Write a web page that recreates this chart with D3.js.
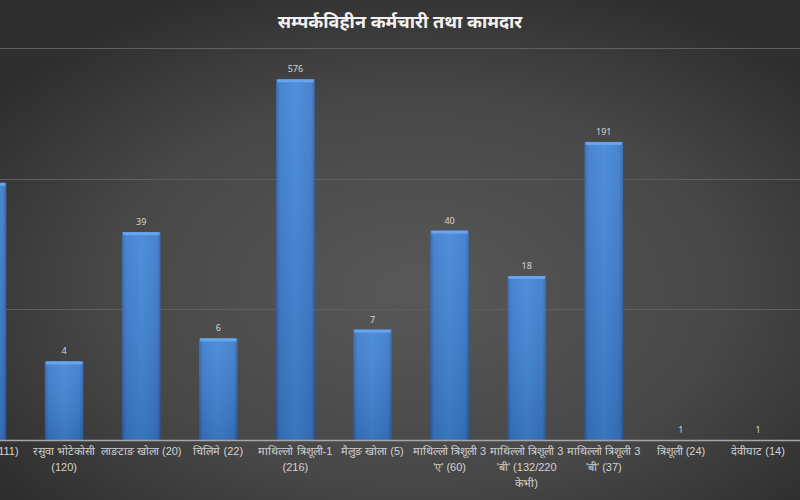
<!DOCTYPE html>
<html>
<head>
<meta charset="utf-8">
<script src="https://cdn.jsdelivr.net/npm/d3@7"></script>
<style>
html,body{margin:0;padding:0;background:#3c3c3c;}
svg{display:block;font-family:"Noto Sans","Noto Sans Devanagari","Lohit Devanagari","DejaVu Sans",sans-serif;}
</style>
</head>
<body>
<svg id="chart" width="800" height="500"></svg>
<script>
const title = "सम्पर्कविहीन कर्मचारी तथा कामदार";
const categories = [
  "रसुवागढी (111)",
  "रसुवा भोटेकोसी (120)",
  "लाङटाङ खोला (20)",
  "चिलिमे (22)",
  "माथिल्लो त्रिशूली-1 (216)",
  "मैलुङ खोला (5)",
  "माथिल्लो त्रिशूली 3 'ए' (60)",
  "माथिल्लो त्रिशूली 3 'बी' (132/220 केभी)",
  "माथिल्लो त्रिशूली 3 'बी' (37)",
  "त्रिशूली (24)",
  "देवीघाट (14)"
];
const values = [93, 4, 39, 6, 576, 7, 40, 18, 191, 1, 1];
const showValue = [false, true, true, true, true, true, true, true, true, true, true];
const gridTicks = [1, 10, 100, 1000];

const svg = d3.select("#chart");
const W = 800, H = 500;
const defs = svg.append("defs");

const bg = defs.append("radialGradient").attr("id","bg")
  .attr("cx","52%").attr("cy","58%").attr("r","65%");
bg.append("stop").attr("offset","0%").attr("stop-color","#585858");
bg.append("stop").attr("offset","60%").attr("stop-color","#474747");
bg.append("stop").attr("offset","100%").attr("stop-color","#2e2e2e");
svg.append("rect").attr("width",W).attr("height",H).attr("fill","url(#bg)");

const barG = defs.append("linearGradient").attr("id","barg")
  .attr("x1","0").attr("x2","1").attr("y1","0").attr("y2","0");
barG.append("stop").attr("offset","0%").attr("stop-color","#2c60aa");
barG.append("stop").attr("offset","10%").attr("stop-color","#3b7acb");
barG.append("stop").attr("offset","50%").attr("stop-color","#4085d8");
barG.append("stop").attr("offset","90%").attr("stop-color","#3b7acb");
barG.append("stop").attr("offset","100%").attr("stop-color","#2c60aa");

const barV = defs.append("linearGradient").attr("id","barv")
  .attr("x1","0").attr("x2","0").attr("y1","0").attr("y2","1");
barV.append("stop").attr("offset","0%").attr("stop-color","#ffffff").attr("stop-opacity",0.08);
barV.append("stop").attr("offset","100%").attr("stop-color","#000000").attr("stop-opacity",0.12);

const step = 77.1;
const x = d3.scaleBand().domain(categories)
  .range([-13 - step/2, -13 - step/2 + step*categories.length])
  .paddingInner(0.5).paddingOuter(0.25);
const y = d3.scaleLog().domain([1, 1000]).range([440, 48]);

// gridlines
svg.append("g").selectAll("line").data(gridTicks.slice(1)).join("line")
  .attr("x1",0).attr("x2",W)
  .attr("y1",d=>Math.round(y(d))+0.5).attr("y2",d=>Math.round(y(d))+0.5)
  .attr("stroke","#5f5f5f").attr("stroke-width",1);

// bars
const bars = svg.append("g").selectAll("g").data(categories).join("g");
bars.append("rect")
  .attr("x",d=>x(d)).attr("width",x.bandwidth())
  .attr("y",(d,i)=>y(values[i])).attr("height",(d,i)=>y(1)-y(values[i]))
  .attr("fill","url(#barg)");
bars.append("rect")
  .attr("x",d=>x(d)).attr("width",x.bandwidth())
  .attr("y",(d,i)=>y(values[i])).attr("height",(d,i)=>y(1)-y(values[i]))
  .attr("fill","url(#barv)");
bars.filter((d,i)=>values[i]>1).append("rect")
  .attr("x",d=>x(d)+1).attr("width",x.bandwidth()-2)
  .attr("y",(d,i)=>y(values[i])).attr("height",3)
  .attr("fill","#6aa8ef").attr("opacity",0.9);

// value labels
svg.append("g").selectAll("text").data(categories).join("text")
  .filter((d,i)=>showValue[i])
  .attr("x",d=>x(d)+x.bandwidth()/2)
  .attr("y",d=>y(values[categories.indexOf(d)]) - 7)
  .attr("text-anchor","middle").attr("fill","#d4d4d4")
  .attr("font-size",9)
  .text(d=>values[categories.indexOf(d)]);

// axis
const axis = d3.axisBottom(x).tickSize(0).tickPadding(0);
const ax = svg.append("g").attr("transform",`translate(0,${y(1)})`).call(axis);
ax.select(".domain").remove();
svg.append("line").attr("x1",0).attr("x2",W).attr("y1",440.5).attr("y2",440.5)
  .attr("stroke","#a6a6a6").attr("stroke-width",1.3);

ax.selectAll(".tick text")
  .attr("fill","#d2d2d2").attr("font-size",11)
  .attr("y",15).attr("dy",0)
  .each(function(d){
    const t = d3.select(this);
    const words = d.split(" ");
    t.text(null);
    let line = [];
    let ts = t.append("tspan").attr("x",0).attr("dy",0);
    const maxW = 84;
    words.forEach(w=>{
      line.push(w);
      ts.text(line.join(" "));
      if (ts.node().getComputedTextLength() > maxW && line.length>1){
        line.pop();
        ts.text(line.join(" "));
        line=[w];
        ts = t.append("tspan").attr("x",0).attr("dy",16).text(w);
      }
    });
  });

// title
svg.append("text").attr("x",400).attr("y",28).attr("text-anchor","middle")
  .attr("fill","#f2f2f2").attr("font-size",18).attr("font-weight","bold")
  .text(title);
</script>
</body>
</html>
